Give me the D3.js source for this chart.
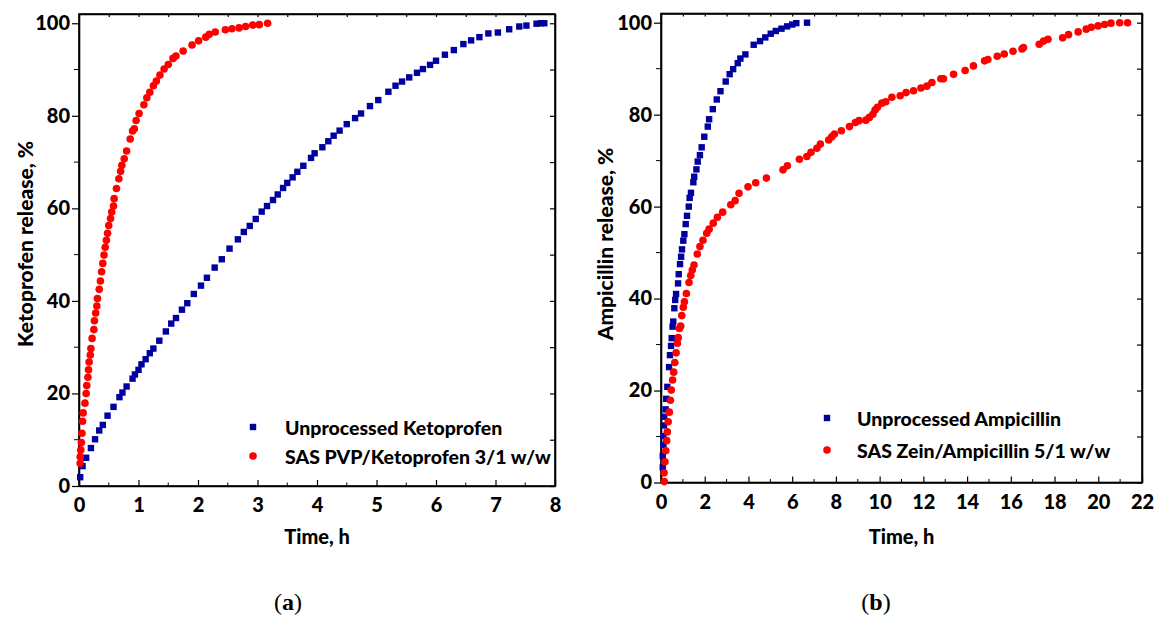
<!DOCTYPE html>
<html>
<head>
<meta charset="utf-8">
<script src="https://cdn.jsdelivr.net/npm/d3@7"></script>
<style>
  body { margin: 0; background: #fff; }
  svg text { font-family: Lato, "Open Sans", sans-serif; font-weight: 900; fill: #000; }
  .cap { font-family: "Liberation Serif", serif; font-weight: normal; }
</style>
</head>
<body>
<div id="chart"></div>
<script>
// (a) ketoprofen, time in h / release in %
var ketoRawT = [0.02,0.06,0.12,0.2,0.27,0.34,0.4,0.48,0.58,0.68,0.73,0.8,0.9,0.94,1.0,1.05,1.12,1.19,1.25,1.35,1.46,1.55,1.63,1.73,1.82,1.93,2.05,2.15,2.28,2.4,2.53,2.67,2.77,2.87,2.97,3.07,3.16,3.26,3.34,3.43,3.5,3.59,3.67,3.77,3.9,3.96,4.09,4.19,4.28,4.38,4.5,4.64,4.74,4.89,5.03,5.2,5.32,5.43,5.55,5.68,5.78,5.9,6.0,6.15,6.3,6.46,6.59,6.73,6.88,7.04,7.23,7.4,7.52,7.69,7.76,7.82];
var ketoRawV = [1.9,4.3,6.1,8.2,10.1,12,13.2,15.2,17.1,19.2,20.2,21.5,23.2,24.1,25.1,26.3,27.4,28.7,29.7,31.4,33.4,35.1,36.3,38.1,39.5,41.5,43.3,45,47.2,49,51.3,53.3,54.9,56.2,57.7,59.3,60.5,61.8,63,64.4,65.5,66.7,67.9,69.2,70.9,71.9,73.2,74.5,75.7,76.8,78.2,79.5,80.5,82.1,83.4,85.2,86.5,87.4,88.3,89.3,90.1,91,91.9,93.2,94.2,95.5,96.3,97,97.8,98,98.7,99.3,99.5,99.9,100,100];
var ketoSasT = [0.02,0.02,0.03,0.04,0.05,0.06,0.07,0.1,0.12,0.13,0.15,0.16,0.17,0.19,0.2,0.22,0.25,0.26,0.28,0.3,0.31,0.34,0.36,0.38,0.4,0.42,0.44,0.46,0.48,0.5,0.53,0.55,0.58,0.59,0.63,0.67,0.7,0.72,0.76,0.8,0.86,0.9,0.93,0.96,1.01,1.09,1.14,1.19,1.25,1.3,1.36,1.43,1.5,1.58,1.63,1.75,1.9,2.01,2.13,2.19,2.29,2.46,2.57,2.69,2.8,2.92,3.03,3.17];
var ketoSasV = [4.9,6.3,7.8,9.4,11.4,14,15.8,17.9,20,21.7,23.5,25.1,26.8,28.3,29.7,31.9,33.8,35.7,37.4,38.9,40.5,42.5,44.3,46.3,48.1,49.9,51.6,53.1,54.6,56.3,57.8,59.2,60.5,62.1,64.3,66.4,68,69.3,70.7,72.4,75,76.7,77.2,79,80.5,82.4,83.9,85.1,86.5,87.5,88.8,90.1,91.1,92.4,92.9,94,95.3,96.2,97,97.6,98.1,98.6,98.8,99,99.3,99.6,99.7,100];

// (b) ampicillin
var ampRawT = [0.08,0.08,0.11,0.11,0.14,0.15,0.21,0.24,0.29,0.37,0.41,0.46,0.49,0.53,0.56,0.61,0.65,0.69,0.78,0.81,0.87,0.92,0.96,1.02,1.07,1.13,1.19,1.27,1.31,1.37,1.48,1.52,1.62,1.68,1.78,1.86,1.98,2.14,2.2,2.37,2.55,2.72,2.96,3.14,3.3,3.51,3.63,3.86,4.24,4.53,4.77,5.02,5.25,5.51,5.77,6.0,6.19,6.68];
var ampRawV = [3.3,5.8,8.2,10.1,12.4,14.3,15.9,18.2,20.8,25.1,27.7,29.7,31.4,33.9,35,37.9,39.7,41,43.3,45.3,47.5,49.1,50.7,52.6,54,56.2,58,60,61.9,63,65.3,66.5,68.1,69.8,71.2,72.9,75.2,77.4,79,81.2,83.3,85.1,87.2,88.8,89.9,91.2,92.2,93.1,95.2,96,96.8,97.6,98.2,98.7,99.2,99.6,99.9,100];
var ampSasT = [0.15,0.14,0.18,0.22,0.26,0.29,0.33,0.38,0.43,0.47,0.53,0.58,0.63,0.69,0.75,0.79,0.84,0.9,0.95,1.02,1.07,1.16,1.28,1.36,1.43,1.51,1.66,1.78,1.92,2.09,2.2,2.39,2.58,2.82,3.19,3.39,3.57,3.98,4.33,4.82,5.58,5.78,6.33,6.67,6.86,7.13,7.29,7.67,7.81,7.93,8.25,8.62,8.89,9.06,9.37,9.53,9.69,9.79,9.9,10.1,10.28,10.56,10.94,11.21,11.55,11.89,12.16,12.39,12.8,12.92,13.38,13.91,14.29,14.8,14.95,15.38,15.7,16.1,16.51,16.58,17.3,17.5,17.7,18.37,18.64,19.08,19.45,19.68,19.99,20.29,20.58,20.98,21.34];
var ampSasV = [0.2,2.1,4.5,6.9,9.1,11,13.2,15.3,17.9,20.1,22.3,24,26.1,28.2,30.3,31.5,33.5,34,36.3,38.1,39.3,41.1,43.5,45,46.2,47.3,49.7,51.3,52.7,54.2,55.1,56.4,57.7,58.8,60.4,61.3,62.9,64.3,65.2,66.2,68,68.9,70.3,70.9,71.8,72.7,73.6,74.5,75.2,75.8,76.5,77.4,78.3,78.7,78.8,79.4,80.1,81,81.6,82.5,82.8,83.8,84.1,84.8,85.2,85.8,86.2,87,87.8,87.8,88.8,89.6,90.6,91.7,92,92.7,93.2,93.8,94.3,94.6,95.3,96,96.4,96.7,97.4,98,98.6,99,99.3,99.6,99.9,100,100];

var yTicks = [0, 20, 40, 60, 80, 100];
var xTicksA = [0, 1, 2, 3, 4, 5, 6, 7, 8];
var xTicksB = [0, 2, 4, 6, 8, 10, 12, 14, 16, 18, 20, 22];

var blue = "#0000a0", red = "#ff0000";

var svg = d3.select('#chart').append('svg')
    .attr("width", 1158)
    .attr("height", 617);

function zip(t, v) { return t.map(function(d, i) { return { x: d, y: v[i] }; }); }

function panel(p) {
    var x = d3.scaleLinear().domain(p.xDomain).range([p.left, p.right]);
    var y = d3.scaleLinear().domain([0, 102]).range([p.bottom, p.top]);
    var g = svg.append("g");

    // bottom axis, ticks point inward
    var xb = g.append("g").attr("transform", "translate(0," + p.bottom + ")")
        .call(d3.axisBottom(x).tickValues(p.xTicks).tickSize(-6).tickPadding(12).tickSizeOuter(0));
    xb.append("g").selectAll("line").data(p.xMinor).enter().append("line")
        .attr("x1", function(d) { return x(d); }).attr("x2", function(d) { return x(d); })
        .attr("y1", 0).attr("y2", -3.5).attr("stroke", "#000");
    // top mirror
    g.append("g").attr("transform", "translate(0," + p.top + ")")
        .call(d3.axisTop(x).tickValues(p.xTicks.concat(p.xMinor)).tickSize(-3).tickFormat("").tickSizeOuter(0));

    // left axis, ticks point outward
    var yl = g.append("g").attr("transform", "translate(" + p.left + ",0)")
        .call(d3.axisLeft(y).tickValues(yTicks).tickSize(7).tickPadding(2).tickSizeOuter(0));
    yl.append("g").selectAll("line").data([10, 30, 50, 70, 90]).enter().append("line")
        .attr("y1", function(d) { return y(d); }).attr("y2", function(d) { return y(d); })
        .attr("x1", 0).attr("x2", -5).attr("stroke", "#000");
    // right mirror
    g.append("g").attr("transform", "translate(" + p.right + ",0)")
        .call(d3.axisRight(y).tickValues([0, 10, 20, 30, 40, 50, 60, 70, 80, 90, 100]).tickSize(-5).tickFormat("").tickSizeOuter(0));

    g.selectAll(".domain").attr("stroke", "#000").attr("stroke-width", 1.6);
    g.selectAll(".tick line").attr("stroke", "#000").attr("stroke-width", 1.2);
    g.selectAll(".tick text").style("font-size", "20px").style("font-family", "Lato, sans-serif").style("font-weight", "900");

    // frame closing lines
    g.append("rect").attr("x", p.left).attr("y", p.top)
        .attr("width", p.right - p.left).attr("height", p.bottom - p.top)
        .attr("fill", "none").attr("stroke", "#000").attr("stroke-width", 1.6);

    // points
    g.append("g").selectAll("rect").data(p.squares).enter().append("rect")
        .attr("x", function(d) { return x(d.x) - 3.2; })
        .attr("y", function(d) { return y(d.y) - 3.2; })
        .attr("width", 6.4).attr("height", 6.4).attr("fill", blue);
    g.append("g").selectAll("circle").data(p.circles).enter().append("circle")
        .attr("cx", function(d) { return x(d.x); })
        .attr("cy", function(d) { return y(d.y); })
        .attr("r", 3.8).attr("fill", red);

    // axis titles
    g.append("text").attr("x", (p.left + p.right) / 2).attr("y", 544)
        .attr("text-anchor", "middle").style("font-size", "20px").text("Time, h");
    g.append("text").attr("transform", "translate(" + p.yTitleX + "," + 244 + ") rotate(-90)")
        .attr("text-anchor", "middle").attr("dominant-baseline", "central")
        .style("font-size", "21px").text(p.yTitle);

    // legend
    p.legend.forEach(function(l, i) {
        if (i == 0) {
            g.append("rect").attr("x", p.legX - 3.2).attr("y", l.y - 3.2).attr("width", 6.4).attr("height", 6.4).attr("fill", blue);
        } else {
            g.append("circle").attr("cx", p.legX).attr("cy", l.y).attr("r", 3.8).attr("fill", red);
        }
        g.append("text").attr("x", p.legTextX).attr("y", l.y)
            .attr("dominant-baseline", "central").style("font-size", "19.5px").text(l.label);
    });

    // caption
    var cap = g.append("text").attr("class", "cap").attr("x", p.capX).attr("y", 610)
        .attr("text-anchor", "middle").style("font-size", "24px");
    cap.append("tspan").text("(");
    cap.append("tspan").style("font-weight", "bold").text(p.cap);
    cap.append("tspan").text(")");
}

panel({
    left: 79, right: 555, top: 14, bottom: 486,
    xDomain: [0, 8], xTicks: xTicksA, xMinor: [0.5, 1.5, 2.5, 3.5, 4.5, 5.5, 6.5, 7.5],
    squares: zip(ketoRawT, ketoRawV), circles: zip(ketoSasT, ketoSasV),
    yTitle: "Ketoprofen release, %", yTitleX: 24,
    legX: 253, legTextX: 285,
    legend: [{ y: 427, label: "Unprocessed Ketoprofen" }, { y: 456, label: "SAS PVP/Ketoprofen 3/1 w/w" }],
    capX: 288, cap: "a"
});

panel({
    left: 661, right: 1142, top: 13.5, bottom: 482.5,
    xDomain: [0, 22], xTicks: xTicksB, xMinor: [1, 3, 5, 7, 9, 11, 13, 15, 17, 19, 21],
    squares: zip(ampRawT, ampRawV), circles: zip(ampSasT, ampSasV),
    yTitle: "Ampicillin release, %", yTitleX: 604,
    legX: 827, legTextX: 857,
    legend: [{ y: 418, label: "Unprocessed Ampicillin" }, { y: 450, label: "SAS Zein/Ampicillin 5/1 w/w" }],
    capX: 876, cap: "b"
});
</script>
</body>
</html>
